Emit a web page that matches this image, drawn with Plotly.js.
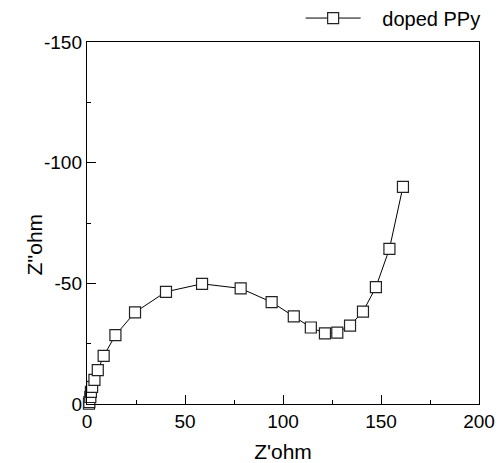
<!DOCTYPE html>
<html>
<head>
<meta charset="utf-8">
<script src="https://cdn.plot.ly/plotly-3.0.1.min.js"></script>
<style>html,body{margin:0;padding:0;background:#fff;}#chart{width:500px;height:463px;}</style>
</head>
<body>
<div id="chart"></div>
<script>
var seriesName = "doped PPy";
var zReal = [1.0, 1.2, 1.7, 2.0, 2.6, 3.8, 5.5, 8.5, 14.5, 24.5, 40.3, 58.7, 78.4, 94.2, 105.5, 114.2, 121.4, 127.7, 134.2, 140.8, 147.4, 154.3, 161.2];
var zImag = [-0.1, -0.8, -2.9, -5.0, -7.1, -10.0, -14.0, -19.9, -28.5, -38.0, -46.5, -49.8, -47.9, -42.2, -36.3, -31.7, -29.3, -29.6, -32.5, -38.3, -48.4, -64.3, -90.0];
var xTicks = [0, 50, 100, 150, 200];
var yTicks = [0, -50, -100, -150];
var xTitle = "Z'ohm";
var yTitle = "Z''ohm";

var fontFamily = "Liberation Sans, Arial, sans-serif";

var trace = {
  x: zReal, y: zImag, name: "\u00a0\u00a0\u00a0" + seriesName,
  type: "scatter", mode: "lines+markers",
  line: {color: "#000", width: 1},
  marker: {symbol: "square", size: 11, color: "#fff", line: {color: "#222", width: 1.2}},
  cliponaxis: false
};

var axisCommon = {
  showgrid: false, zeroline: false,
  showline: true, linecolor: "#000", linewidth: 1.2, mirror: true,
  ticks: "inside", ticklen: 9, tickwidth: 1, tickcolor: "#000",
  tickfont: {family: fontFamily, size: 19, color: "#000"},
  minor: {ticks: "inside", ticklen: 4, tickwidth: 1, tickcolor: "#000", dtick: 25}
};

var layout = {
  width: 500, height: 463,
  margin: {l: 87, r: 21, t: 42, b: 59, autoexpand: false},
  paper_bgcolor: "#fff", plot_bgcolor: "#fff",
  font: {family: fontFamily, size: 19, color: "#000"},
  showlegend: true,
  legend: {x: 0.545, y: 1.12, xanchor: "left", yanchor: "top", bgcolor: "rgba(0,0,0,0)",
           itemwidth: 55,
           font: {family: fontFamily, size: 20, color: "#000"}},
  xaxis: Object.assign({}, axisCommon, {
    range: [0, 200], tickmode: "array", tickvals: xTicks, ticktext: xTicks.map(String),
    title: {text: xTitle, font: {family: fontFamily, size: 21}, standoff: 14}
  }),
  yaxis: Object.assign({}, axisCommon, {
    range: [0, -150], tickmode: "array", tickvals: yTicks, ticktext: yTicks.map(String)
  }),
  annotations: [{
    text: yTitle, xref: "paper", yref: "paper", x: -0.133, y: 0.44,
    xanchor: "center", yanchor: "middle", textangle: -90, showarrow: false,
    font: {family: fontFamily, size: 21, color: "#000"}
  }]
};

Plotly.newPlot("chart", [trace], layout, {displayModeBar: false, staticPlot: true});
</script>
</body>
</html>
